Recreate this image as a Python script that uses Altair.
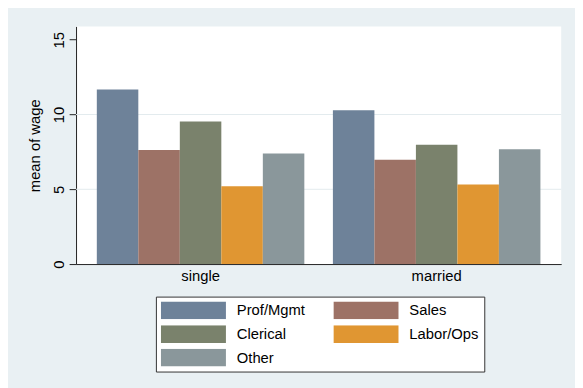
import altair as alt
import pandas as pd

categories = ["Prof/Mgmt", "Sales", "Clerical", "Labor/Ops", "Other"]
groups = ["single", "married"]
single_vals = [11.67, 7.63, 9.54, 5.21, 7.40]
married_vals = [10.28, 6.97, 7.98, 5.32, 7.67]
colors = ["#6E8299", "#9D7266", "#7A826C", "#E09632", "#8A979B"]
y_ticks = [0, 5, 10, 15]
grid_vals = [5, 10]

rows = []
for g, vals in zip(groups, [single_vals, married_vals]):
    for c, v in zip(categories, vals):
        rows.append({"group": g, "occ": c, "wage": v})
df = pd.DataFrame(rows)
grid_df = pd.DataFrame({"wage": grid_vals})

FONT = "Liberation Sans"
ymax = 15.89

yscale = alt.Scale(domain=[0, ymax], nice=False, zero=True)
yaxis = alt.Axis(values=y_ticks, grid=False, title="mean of wage",
                 tickSize=7, tickColor="#222", domainColor="#222",
                 labelAngle=270, labelAlign="center", labelBaseline="bottom",
                 labelFontSize=15, labelFont=FONT, labelColor="#000",
                 labelPadding=3, titleFontSize=15, titleFont=FONT,
                 titleFontWeight="normal", titleColor="#000", titlePadding=9)

grid = alt.Chart(grid_df).mark_rule(color="#E3EBEE", strokeWidth=1).encode(
    y=alt.Y("wage:Q", scale=yscale, axis=yaxis)
)

bars = alt.Chart(df).mark_bar().encode(
    x=alt.X("group:N", sort=groups,
            scale=alt.Scale(paddingInner=0.121, paddingOuter=0.088),
            axis=alt.Axis(title=None, ticks=False, labelAngle=0, labelFontSize=15,
                          labelFont=FONT, labelColor="#000", labelPadding=5,
                          domainColor="#222", domainWidth=1)),
    xOffset=alt.XOffset("occ:N", sort=categories,
                        scale=alt.Scale(paddingInner=0, paddingOuter=0)),
    y=alt.Y("wage:Q", scale=yscale, axis=yaxis),
    color=alt.Color("occ:N", sort=categories,
                    scale=alt.Scale(domain=categories, range=colors),
                    legend=alt.Legend(orient="none", legendX=81, legendY=274,
                                      columns=2, direction="horizontal", title=None,
                                      symbolType="M-1,-0.2727H1V0.2727H-1Z",
                                      symbolSize=4356, symbolStrokeWidth=0,
                                      symbolOpacity=1, clipHeight=18,
                                      labelFontSize=15, labelFont=FONT,
                                      labelColor="#000", labelOffset=11,
                                      fillColor="white", strokeColor="#333",
                                      padding=5, columnPadding=28, rowPadding=6)),
)

chart = alt.layer(grid, bars).properties(
    width=492, height=241,
    autosize=alt.AutoSizeParams(type="none"),
    padding={"left": 69, "top": 16, "right": 14, "bottom": 123},
    background="#E9F0F3",
).configure_view(fill="white", stroke=None)

chart.save("out.html", embed_options={"renderer": "svg", "actions": False})
